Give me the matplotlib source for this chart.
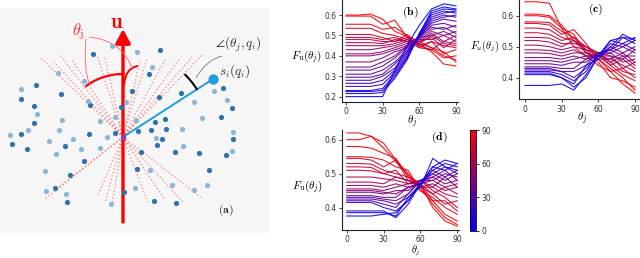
import numpy as np
import matplotlib
matplotlib.use('Agg')
import matplotlib.pyplot as plt
from matplotlib.colors import LinearSegmentedColormap, Normalize
from matplotlib.cm import ScalarMappable
from matplotlib.path import Path
from matplotlib.patches import PathPatch

plt.rcParams['mathtext.fontset'] = 'cm'
plt.rcParams['font.family'] = ['DejaVu Sans']

W, H = 640, 258

# ---------------- panel (a) schematic data (pixel coords) ----------------
dark_x = [93, 160, 149, 36, 61, 21, 132, 159, 181, 90, 34, 121, 223, 232, 221, 34, 165, 21, 89, 115,
          138, 151, 155, 166, 12, 27, 65, 162, 157, 141, 175, 199, 233, 226, 84, 137, 70, 209, 55, 124,
          67, 154, 176]
dark_y = [54, 50, 74, 85, 94, 99, 91, 97, 93, 105, 106, 107, 88, 108, 117, 123, 119, 134, 134, 133,
          131, 130, 122, 129, 144, 149, 146, 139, 145, 152, 152, 153, 139, 155, 161, 169, 175, 170, 188, 192,
          202, 201, 203]
light_x = [112, 137, 58, 152, 84, 21, 214, 88, 126, 194, 227, 37, 136, 62, 115, 100, 202, 10, 28, 59,
           107, 49, 73, 81, 100, 156, 183, 182, 233, 232, 56, 45, 150, 46, 66, 111, 135, 172, 207, 194]
light_y = [46, 52, 73, 67, 81, 89, 91, 101, 102, 102, 100, 114, 120, 120, 117, 121, 118, 135, 130, 130,
           137, 141, 139, 149, 148, 138, 146, 129, 132, 151, 154, 171, 170, 191, 194, 204, 188, 185, 185, 190]
ray_end_x = [40, 52, 60, 72, 97, 105, 140, 147, 165, 180, 192, 202,
             45, 55, 98, 105, 112, 148, 165, 183, 203]
ray_end_y = [57, 60, 55, 60, 55, 58, 60, 58, 60, 58, 57, 55,
             199, 190, 195, 203, 205, 203, 200, 202, 199]
center = (123, 137)
target = (213, 79)

# ---------------- F_u(theta_j) curves ----------------
theta = [0, 10, 20, 30, 40, 50, 60, 70, 80, 90]

b_colors = [90, 87, 84, 80, 76, 72, 68, 64, 60, 56, 52, 48, 44, 40, 36, 32, 28, 24, 20, 16, 12, 8, 4, 0]
b_values = [
    [0.600, 0.600, 0.605, 0.580, 0.520, 0.495, 0.470, 0.440, 0.400, 0.380],
    [0.595, 0.595, 0.595, 0.555, 0.575, 0.490, 0.455, 0.420, 0.360, 0.350],
    [0.555, 0.555, 0.555, 0.530, 0.540, 0.500, 0.440, 0.430, 0.390, 0.400],
    [0.535, 0.535, 0.535, 0.510, 0.500, 0.480, 0.450, 0.470, 0.410, 0.430],
    [0.505, 0.505, 0.505, 0.490, 0.470, 0.505, 0.460, 0.440, 0.420, 0.370],
    [0.490, 0.490, 0.490, 0.480, 0.490, 0.470, 0.440, 0.470, 0.450, 0.440],
    [0.480, 0.480, 0.480, 0.470, 0.470, 0.490, 0.450, 0.430, 0.470, 0.460],
    [0.465, 0.465, 0.465, 0.460, 0.480, 0.470, 0.470, 0.490, 0.440, 0.480],
    [0.450, 0.450, 0.450, 0.450, 0.460, 0.480, 0.460, 0.500, 0.460, 0.450],
    [0.430, 0.430, 0.430, 0.440, 0.450, 0.470, 0.480, 0.480, 0.500, 0.470],
    [0.410, 0.410, 0.410, 0.420, 0.440, 0.460, 0.470, 0.510, 0.470, 0.500],
    [0.400, 0.400, 0.400, 0.410, 0.430, 0.450, 0.490, 0.500, 0.520, 0.490],
    [0.370, 0.370, 0.370, 0.390, 0.420, 0.440, 0.480, 0.520, 0.500, 0.520],
    [0.345, 0.345, 0.345, 0.370, 0.400, 0.450, 0.490, 0.530, 0.540, 0.510],
    [0.330, 0.330, 0.330, 0.350, 0.390, 0.440, 0.500, 0.540, 0.530, 0.550],
    [0.310, 0.310, 0.310, 0.330, 0.370, 0.430, 0.490, 0.550, 0.560, 0.540],
    [0.295, 0.295, 0.295, 0.310, 0.360, 0.420, 0.500, 0.560, 0.580, 0.570],
    [0.280, 0.280, 0.280, 0.300, 0.340, 0.420, 0.490, 0.570, 0.590, 0.600],
    [0.265, 0.265, 0.265, 0.280, 0.330, 0.410, 0.500, 0.580, 0.600, 0.590],
    [0.250, 0.250, 0.250, 0.260, 0.320, 0.400, 0.500, 0.590, 0.610, 0.620],
    [0.230, 0.230, 0.230, 0.240, 0.310, 0.390, 0.510, 0.600, 0.620, 0.610],
    [0.225, 0.225, 0.225, 0.230, 0.300, 0.390, 0.500, 0.610, 0.630, 0.625],
    [0.215, 0.215, 0.215, 0.220, 0.290, 0.380, 0.510, 0.620, 0.640, 0.630],
    [0.200, 0.200, 0.200, 0.200, 0.330, 0.450, 0.550, 0.630, 0.655, 0.645],
]

c_colors = [90, 87, 84, 81, 78, 74, 70, 66, 62, 58, 54, 50, 46, 42, 38, 34, 30, 24, 18, 12, 6, 0]
c_values = [
    [0.645, 0.645, 0.640, 0.560, 0.500, 0.470, 0.440, 0.420, 0.380, 0.350],
    [0.605, 0.605, 0.600, 0.570, 0.520, 0.490, 0.450, 0.400, 0.390, 0.370],
    [0.600, 0.600, 0.595, 0.560, 0.540, 0.480, 0.460, 0.430, 0.400, 0.360],
    [0.580, 0.580, 0.578, 0.550, 0.530, 0.500, 0.470, 0.440, 0.410, 0.390],
    [0.575, 0.575, 0.570, 0.540, 0.555, 0.510, 0.460, 0.420, 0.430, 0.400],
    [0.560, 0.560, 0.555, 0.530, 0.520, 0.500, 0.480, 0.450, 0.420, 0.410],
    [0.545, 0.545, 0.540, 0.520, 0.530, 0.490, 0.470, 0.460, 0.440, 0.420],
    [0.530, 0.530, 0.528, 0.510, 0.510, 0.500, 0.480, 0.440, 0.460, 0.430],
    [0.520, 0.520, 0.515, 0.500, 0.520, 0.480, 0.470, 0.470, 0.430, 0.450],
    [0.505, 0.505, 0.500, 0.490, 0.500, 0.490, 0.480, 0.450, 0.470, 0.440],
    [0.490, 0.490, 0.488, 0.480, 0.490, 0.470, 0.470, 0.480, 0.450, 0.460],
    [0.480, 0.480, 0.478, 0.470, 0.480, 0.480, 0.460, 0.460, 0.480, 0.450],
    [0.465, 0.465, 0.465, 0.460, 0.470, 0.460, 0.480, 0.470, 0.460, 0.490],
    [0.455, 0.455, 0.455, 0.450, 0.460, 0.470, 0.470, 0.490, 0.470, 0.470],
    [0.445, 0.445, 0.445, 0.440, 0.450, 0.450, 0.480, 0.480, 0.500, 0.480],
    [0.435, 0.435, 0.435, 0.430, 0.430, 0.460, 0.470, 0.500, 0.480, 0.500],
    [0.425, 0.425, 0.425, 0.420, 0.420, 0.440, 0.480, 0.490, 0.510, 0.490],
    [0.430, 0.430, 0.430, 0.420, 0.400, 0.430, 0.470, 0.510, 0.500, 0.520],
    [0.420, 0.420, 0.420, 0.410, 0.390, 0.420, 0.480, 0.490, 0.530, 0.510],
    [0.415, 0.415, 0.415, 0.400, 0.370, 0.400, 0.470, 0.520, 0.510, 0.530],
    [0.410, 0.410, 0.410, 0.400, 0.380, 0.440, 0.460, 0.500, 0.540, 0.520],
    [0.375, 0.375, 0.375, 0.380, 0.360, 0.410, 0.470, 0.520, 0.530, 0.525],
]

d_colors = [90, 87, 84, 81, 78, 75, 72, 68, 64, 60, 56, 52, 48, 44, 40, 36, 30, 24, 18, 12, 6, 0]
d_values = [
    [0.620, 0.620, 0.610, 0.575, 0.535, 0.495, 0.470, 0.400, 0.360, 0.345],
    [0.600, 0.600, 0.610, 0.590, 0.540, 0.500, 0.450, 0.420, 0.380, 0.360],
    [0.580, 0.580, 0.575, 0.560, 0.545, 0.490, 0.460, 0.410, 0.370, 0.350],
    [0.550, 0.550, 0.548, 0.540, 0.520, 0.510, 0.450, 0.430, 0.400, 0.380],
    [0.545, 0.545, 0.540, 0.520, 0.540, 0.480, 0.470, 0.420, 0.420, 0.390],
    [0.530, 0.530, 0.528, 0.510, 0.500, 0.490, 0.460, 0.440, 0.410, 0.420],
    [0.520, 0.520, 0.518, 0.500, 0.510, 0.470, 0.480, 0.450, 0.430, 0.400],
    [0.510, 0.510, 0.508, 0.500, 0.490, 0.480, 0.460, 0.460, 0.440, 0.430],
    [0.490, 0.490, 0.490, 0.485, 0.480, 0.470, 0.470, 0.440, 0.460, 0.440],
    [0.475, 0.475, 0.475, 0.470, 0.490, 0.480, 0.460, 0.470, 0.450, 0.460],
    [0.465, 0.465, 0.465, 0.460, 0.470, 0.460, 0.470, 0.480, 0.460, 0.470],
    [0.455, 0.455, 0.455, 0.450, 0.460, 0.470, 0.480, 0.460, 0.490, 0.460],
    [0.450, 0.450, 0.450, 0.445, 0.440, 0.460, 0.470, 0.490, 0.470, 0.480],
    [0.445, 0.445, 0.445, 0.440, 0.450, 0.450, 0.480, 0.480, 0.500, 0.490],
    [0.435, 0.435, 0.435, 0.430, 0.430, 0.460, 0.470, 0.500, 0.480, 0.500],
    [0.430, 0.430, 0.430, 0.425, 0.420, 0.440, 0.480, 0.490, 0.510, 0.480],
    [0.425, 0.425, 0.425, 0.420, 0.410, 0.430, 0.470, 0.510, 0.490, 0.510],
    [0.420, 0.420, 0.420, 0.410, 0.400, 0.440, 0.480, 0.500, 0.520, 0.500],
    [0.415, 0.415, 0.415, 0.400, 0.390, 0.420, 0.470, 0.520, 0.510, 0.530],
    [0.390, 0.390, 0.390, 0.390, 0.370, 0.410, 0.470, 0.510, 0.530, 0.520],
    [0.385, 0.385, 0.385, 0.385, 0.375, 0.430, 0.460, 0.545, 0.520, 0.510],
    [0.375, 0.375, 0.375, 0.380, 0.385, 0.420, 0.470, 0.520, 0.540, 0.530],
]

cmap = LinearSegmentedColormap.from_list('blue_red', ['#0000ff', '#ff0000'])
norm = Normalize(0, 90)


def px_rect(left, top, right, bottom):
    return [left / W, 1 - bottom / H, (right - left) / W, (bottom - top) / H]


def ftext(x, y, s, **kw):
    fig.text(x / W, 1 - y / H, s, **kw)


fig = plt.figure(figsize=(W / 100, H / 100), dpi=100)

# ---------------- panel (a) ----------------
ax = fig.add_axes(px_rect(0, 8, 269, 233))
ax.set_xlim(0, 269)
ax.set_ylim(233, 8)
ax.set_facecolor('#f6f6f6')
ax.set_xticks([])
ax.set_yticks([])
for s in ax.spines.values():
    s.set_visible(False)

for ex, ey in zip(ray_end_x, ray_end_y):
    ax.plot([center[0], ex], [center[1], ey], color='#ff4040', alpha=0.55,
            lw=1.0, linestyle=(0, (1, 1.6)), zorder=1)

ax.annotate('', xy=(123, 29), xytext=(123, 222),
            arrowprops=dict(arrowstyle='-|>,head_length=0.6,head_width=0.32',
                            mutation_scale=14, lw=2.4, color='#ff0000',
                            shrinkA=0, shrinkB=0), zorder=3)

ax.plot([center[0], target[0]], [center[1], target[1]], color='#1f9de0', lw=1.4, zorder=4)
ax.scatter(dark_x, dark_y, s=14, color='#2c72b0', zorder=5, linewidths=0)
ax.scatter(light_x, light_y, s=14, color='#8ab6db', zorder=5, linewidths=0)
ax.scatter([center[0]], [center[1]], s=16, color='#8a3fb0', zorder=6, linewidths=0)
ax.scatter([target[0]], [target[1]], s=55, color='#1f9de0', zorder=6, linewidths=0)

# arcs and leader lines
t = np.radians(np.linspace(90, 126, 30))
ax.plot(center[0] + 63 * np.cos(t), center[1] - 63 * np.sin(t), color='#ff0000', lw=1.6, zorder=4)
t = np.radians(np.linspace(33, 45, 20))
ax.plot(center[0] + 88 * np.cos(t), center[1] - 88 * np.sin(t), color='black', lw=1.5, zorder=4)
ax.add_patch(PathPatch(Path([(124, 86), (125, 68), (138, 66)],
                            [Path.MOVETO, Path.CURVE3, Path.CURVE3]),
                       fc='none', ec='#ff0000', lw=1.4, zorder=4))
ax.add_patch(PathPatch(Path([(86, 39), (83, 68), (90, 86)],
                            [Path.MOVETO, Path.CURVE3, Path.CURVE3]),
                       fc='none', ec='#ff6060', lw=0.6, zorder=4))
ax.add_patch(PathPatch(Path([(89, 37), (122, 40), (133, 70)],
                            [Path.MOVETO, Path.CURVE3, Path.CURVE3]),
                       fc='none', ec='#ff6060', lw=0.6, zorder=4))
ax.add_patch(PathPatch(Path([(196, 78), (206, 60), (222, 56)],
                            [Path.MOVETO, Path.CURVE3, Path.CURVE3]),
                       fc='none', ec='#777777', lw=0.6, zorder=4))

ax.text(117, 22, r'$\mathbf{u}$', color='#ff0000', fontsize=15, ha='center', va='center')
ax.text(78, 32, r'$\theta_\mathrm{j}$', color='#ff3030', fontsize=12, ha='center', va='center')
ax.text(215, 44, r'$\angle(\theta_j, q_i)$', color='#333333', fontsize=9.5, ha='left', va='center')
ax.text(219, 71, r'$s_i(q_i)$', color='#333333', fontsize=9.5, ha='left', va='center')
ax.text(226, 210, r'$\mathbf{(a)}$', color='#222222', fontsize=8.5, ha='center', va='center')


# ---------------- line panels ----------------
def line_panel(rect, xlim, ylim, yticks, colors, values):
    a = fig.add_axes(rect)
    for cval, vals in zip(colors, values):
        a.plot(theta, vals, color=cmap(norm(cval)), lw=0.8, alpha=0.9)
    a.set_xlim(*xlim)
    a.set_ylim(*ylim)
    a.set_xticks([0, 30, 60, 90])
    a.set_yticks(yticks)
    a.set_yticklabels([f'{v:.1f}' for v in yticks])
    a.spines['top'].set_visible(False)
    a.spines['right'].set_visible(False)
    for s in ('left', 'bottom'):
        a.spines[s].set_linewidth(0.8)
        a.spines[s].set_color('#222222')
    a.tick_params(labelsize=5.5, length=2.5, width=0.6, pad=1.5, colors='#222222', labelcolor='#333333')
    a.patch.set_alpha(0)
    return a


line_panel(px_rect(341.7, 0, 457.8, 101.7), (-3.5, 91.5), (0.175, 0.674),
           [0.2, 0.3, 0.4, 0.5, 0.6], b_colors, b_values)
line_panel(px_rect(519, 0, 639, 99), (-4.9, 93.3), (0.3313, 0.6507),
           [0.4, 0.5, 0.6], c_colors, c_values)
line_panel(px_rect(341.7, 130, 459, 229.7), (-4.1, 91.4), (0.3346, 0.6287),
           [0.4, 0.5, 0.6], d_colors, d_values)

cax = fig.add_axes(px_rect(470, 130, 475.5, 231))
cb = fig.colorbar(ScalarMappable(norm=norm, cmap=cmap), cax=cax, ticks=[0, 30, 60, 90])
cb.outline.set_linewidth(0.6)
cax.tick_params(labelsize=5.5, length=2.5, width=0.6, pad=2, labelcolor='#333333')

ftext(306, 57, r'$F_\mathrm{u}(\theta_j)$', fontsize=8, ha='center', va='center')
ftext(485, 46, r'$F_u(\theta_j)$', fontsize=7.5, ha='center', va='center')
ftext(307, 187, r'$F_\mathrm{u}(\theta_j)$', fontsize=8, ha='center', va='center')
ftext(412, 122, r'$\theta_j$', fontsize=8, ha='center', va='center')
ftext(582, 119, r'$\theta_j$', fontsize=8, ha='center', va='center')
ftext(416, 257.5, r'$\theta_j$', fontsize=7.5, ha='center', va='bottom')
ftext(410, 12, r'$\mathbf{(b)}$', fontsize=8.5, ha='center', va='center')
ftext(596, 9, r'$\mathbf{(c)}$', fontsize=8.5, ha='center', va='center')
ftext(439, 137, r'$\mathbf{(d)}$', fontsize=8.5, ha='center', va='center')

fig.savefig('out.png', dpi=100)
